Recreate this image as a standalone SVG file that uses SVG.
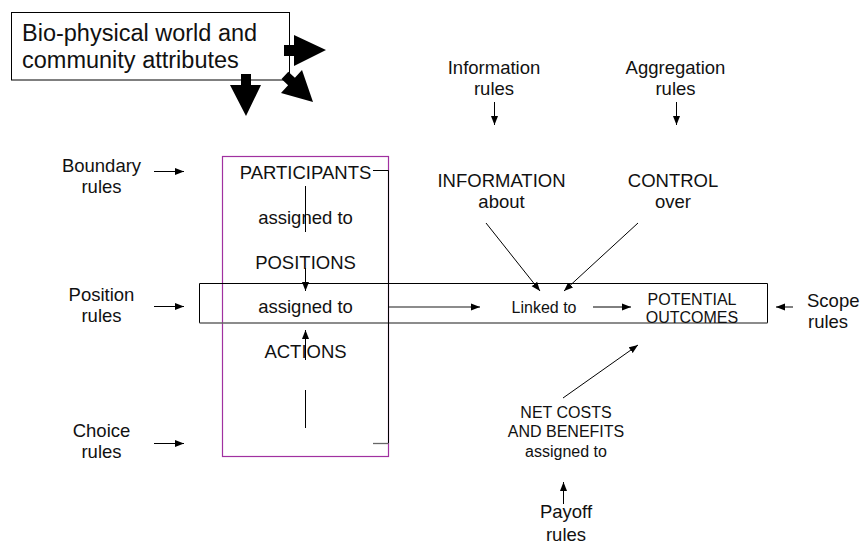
<svg xmlns="http://www.w3.org/2000/svg" width="862" height="545" viewBox="0 0 862 545">
<style>
text{font-family:"Liberation Sans",Arial,sans-serif;fill:#111;text-anchor:middle}
.l{font-size:18.5px}
.s{font-size:16px}
.ln{stroke:#000;stroke-width:1;fill:none}
.g{stroke:#666;stroke-width:1.3;fill:none}
.blk{fill:#000;stroke:none}
</style>
<defs>
<marker id="ah" markerUnits="userSpaceOnUse" markerWidth="10" markerHeight="8" refX="9" refY="4" orient="auto">
<path d="M0,0.5 L9,4 L0,7.5 z" fill="#000"/>
</marker>
</defs>
<rect width="862" height="545" fill="#fff"/>

<g id="attributes">
<rect x="11.5" y="12.5" width="278" height="67.5" fill="#fff" stroke="#000" stroke-width="1"/>
<text x="22" y="41" style="font-size:23.5px;text-anchor:start">Bio-physical world and</text>
<text x="22" y="68" style="font-size:23.5px;text-anchor:start">community attributes</text>
<path class="blk" d="M241,74 H251 V85 H261 L246,116 L230,85 H241 Z"/>
<path class="blk" d="M284,45 H294 V35 L326,50 L294,66 V56 H284 Z"/>
<path class="blk" d="M288.3,71.7 L294.9,77.8 L302,70 L313,102 L281,93 L288.1,85.2 L281.5,79.1 Z"/>
</g>

<g id="arena">
<rect x="222.5" y="156.5" width="166" height="300" fill="none" stroke="#a030a0" stroke-width="1.2"/>
</g>

<g id="row">
<path class="ln" d="M199.5,323 V283.5 H767.5 V323"/>
<path class="g" d="M199.5,323 H767.5"/>
</g>

<g id="participants"><text class="l" x="305.5" y="179">PARTICIPANTS</text></g>
<g id="assigned1"><text class="l" x="305.5" y="224">assigned to</text></g>
<g id="positions"><text class="l" x="305.5" y="269">POSITIONS</text></g>
<g id="assigned2"><text class="l" x="305.5" y="312.5">assigned to</text></g>
<g id="actions"><text class="l" x="305.5" y="358">ACTIONS</text></g>

<g id="boundary"><text class="l" x="101.5" y="172">Boundary</text><text class="l" x="101.5" y="193">rules</text></g>
<g id="position"><text class="l" x="101.5" y="300.5">Position</text><text class="l" x="101.5" y="321.5">rules</text></g>
<g id="choice"><text class="l" x="101.5" y="437">Choice</text><text class="l" x="101.5" y="458">rules</text></g>
<g id="information-rules"><text class="l" x="494" y="74">Information</text><text class="l" x="494" y="95">rules</text></g>
<g id="aggregation-rules"><text class="l" x="675.5" y="74">Aggregation</text><text class="l" x="675.5" y="95">rules</text></g>
<g id="information"><text class="l" x="501.5" y="187">INFORMATION</text><text class="l" x="501.5" y="208">about</text></g>
<g id="control"><text class="l" x="673" y="187">CONTROL</text><text class="l" x="673" y="208">over</text></g>
<g id="linked"><text class="s" x="544" y="312.5">Linked to</text></g>
<g id="outcomes"><text class="s" x="692" y="305">POTENTIAL</text><text class="s" x="692" y="323">OUTCOMES</text></g>
<g id="scope"><text class="l" x="807" y="307" style="text-anchor:start">Scope</text><text class="l" x="808" y="328" style="text-anchor:start">rules</text></g>
<g id="costs"><text class="s" x="566" y="418">NET COSTS</text><text class="s" x="566" y="437">AND BENEFITS</text><text class="s" x="566" y="457">assigned to</text></g>
<g id="payoff"><text class="l" x="566" y="518">Payoff</text><text class="l" x="566" y="541">rules</text></g>

<g id="connectors">
<line class="ln" x1="154" y1="171.5" x2="184" y2="171.5" marker-end="url(#ah)"/>
<line class="ln" x1="154" y1="306.5" x2="184" y2="306.5" marker-end="url(#ah)"/>
<line class="ln" x1="154" y1="443.5" x2="184" y2="443.5" marker-end="url(#ah)"/>
<line class="ln" x1="494.5" y1="102" x2="494.5" y2="125" marker-end="url(#ah)"/>
<line class="ln" x1="676.5" y1="102" x2="676.5" y2="125" marker-end="url(#ah)"/>
<line class="ln" x1="305.5" y1="186" x2="305.5" y2="232"/>
<line class="ln" x1="305.5" y1="268" x2="305.5" y2="291" marker-end="url(#ah)"/>
<line class="ln" x1="305.5" y1="360" x2="305.5" y2="330" marker-end="url(#ah)"/>
<line class="ln" x1="305.5" y1="390" x2="305.5" y2="428"/>
<path class="ln" d="M373,170.5 H388.5 V443"/>
<line class="g" x1="373" y1="443.5" x2="388.5" y2="443.5"/>
<line class="g" x1="389" y1="307" x2="470" y2="307"/>
<line class="ln" x1="470" y1="307" x2="480" y2="307" marker-end="url(#ah)"/>
<line class="ln" x1="593" y1="307" x2="631" y2="307" marker-end="url(#ah)"/>
<line class="ln" x1="793" y1="307" x2="776" y2="307" marker-end="url(#ah)"/>
<line class="ln" x1="486" y1="223" x2="540" y2="291" marker-end="url(#ah)"/>
<line class="ln" x1="638" y1="223" x2="564" y2="291" marker-end="url(#ah)"/>
<line class="ln" x1="563" y1="398" x2="638" y2="345" marker-end="url(#ah)"/>
<line class="ln" x1="563.5" y1="504" x2="563.5" y2="482" marker-end="url(#ah)"/>
</g>
</svg>
